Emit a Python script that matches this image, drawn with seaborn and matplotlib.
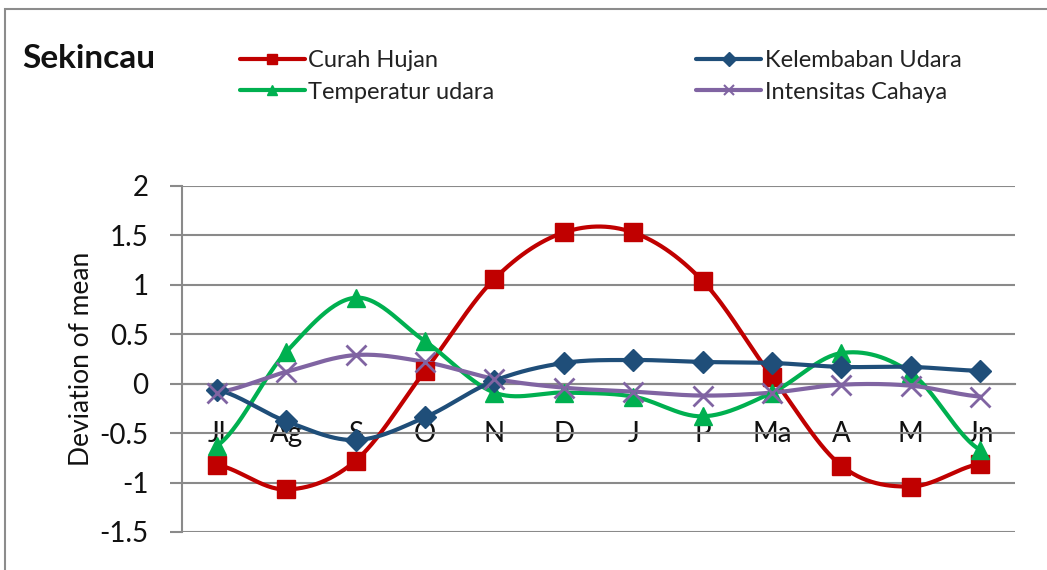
import numpy as np
import pandas as pd
import matplotlib
matplotlib.use("Agg")
import matplotlib.pyplot as plt
import seaborn as sns
from matplotlib.lines import Line2D
from matplotlib.patches import Rectangle

# data
bulan = ["Jl", "Ag", "S", "O", "N", "D", "J", "P", "Ma", "A", "M", "Jn"]
curah_hujan = [-0.82, -1.07, -0.78, 0.13, 1.06, 1.53, 1.53, 1.04, 0.07, -0.83, -1.04, -0.81]
kelembaban = [-0.06, -0.38, -0.57, -0.34, 0.03, 0.21, 0.24, 0.22, 0.21, 0.17, 0.17, 0.13]
temperatur = [-0.63, 0.32, 0.87, 0.43, -0.09, -0.09, -0.13, -0.33, -0.09, 0.31, 0.11, -0.67]
intensitas = [-0.09, 0.12, 0.29, 0.22, 0.05, -0.04, -0.08, -0.12, -0.09, -0.01, -0.02, -0.13]

sns.set_theme(style="white")
plt.rcParams['font.family'] = ['Lato', 'DejaVu Sans']
plt.rcParams['axes.unicode_minus'] = False

series = [
    ("Curah Hujan", curah_hujan, "#C00000", "s", 13),
    ("Temperatur udara", temperatur, "#00B050", "^", 13),
    ("Kelembaban Udara", kelembaban, "#1F4E79", "D", 11),
    ("Intensitas Cahaya", intensitas, "#8064A2", "x", 14),
]


def smooth(y, n=30):
    # catmull-rom curve through the points, like excel's smoothed line
    y = np.asarray(y, float)
    p = np.concatenate([[y[0]], y, [y[-1]]])
    xs, ys = [], []
    for i in range(len(y) - 1):
        t = np.linspace(0, 1, n, endpoint=False)
        p0, p1, p2, p3 = p[i], p[i + 1], p[i + 2], p[i + 3]
        ys.append(0.5 * (2 * p1 + (-p0 + p2) * t + (2 * p0 - 5 * p1 + 4 * p2 - p3) * t ** 2
                         + (-p0 + 3 * p1 - 3 * p2 + p3) * t ** 3))
        xs.append(i + t)
    xs.append([len(y) - 1])
    ys.append([y[-1]])
    return np.concatenate(xs), np.concatenate(ys)


fig = plt.figure(figsize=(10.47, 5.70), dpi=100)
ax = fig.add_axes([182 / 1047, 1 - 532 / 570, (1015 - 182) / 1047, (532 - 186) / 570])
ax.set_axisbelow(True)

grid_c = "#8a8a8a"
txt_c = "#111111"
handles = []
for name, vals, col, mk, ms in series:
    sx, sy = smooth(vals)
    sns.lineplot(x=sx, y=sy, color=col, lw=3, ax=ax, sort=False, zorder=3)
    ax.plot(range(len(bulan)), vals, ls="none", marker=mk, color=col, ms=ms,
            mew=2 if mk == "x" else 1, zorder=4)
    handles.append(Line2D([0], [0], color=col, lw=3, marker=mk, ms=7,
                          mew=1.5 if mk == "x" else 1, label=name))

ax.set_xlim(-0.5, len(bulan) - 0.5)
ax.set_ylim(-1.5, 2)
ax.set_yticks(np.arange(-1.5, 2.01, 0.5))
ax.set_yticklabels(["-1.5", "-1", "-0.5", "0", "0.5", "1", "1.5", "2"])
ax.yaxis.grid(True, color=grid_c, lw=1.5)
ax.set_xticks(range(len(bulan)))
ax.set_xticklabels(bulan)
ax.set_xticks(np.arange(-0.5, len(bulan), 1), minor=True)
ax.tick_params(axis="x", which="major", length=0, pad=27, labelsize=20, labelcolor=txt_c)
ax.tick_params(axis="x", which="minor", length=9, width=1.5, color=grid_c, direction="out")
ax.tick_params(axis="y", length=9, width=1.5, color=grid_c, direction="out", pad=15,
               labelsize=20, labelcolor=txt_c, left=True)

for s in ["top", "right"]:
    ax.spines[s].set_visible(False)
ax.spines["bottom"].set_position(("data", 0))
ax.spines["bottom"].set_color(grid_c)
ax.spines["bottom"].set_linewidth(1.5)
ax.spines["left"].set_color(grid_c)
ax.spines["left"].set_linewidth(1.5)

ax.set_ylabel("Deviation of mean", fontsize=19, color=txt_c, labelpad=4)
ax.set_xlabel("")

fig.text(22 / 1047, 1 - 58 / 570, "Sekincau", fontsize=24, fontweight="bold",
         va="center", ha="left", color=txt_c)

fig.legend(handles=handles, ncol=2, loc="upper left", bbox_to_anchor=(240 / 1047, 1 - 50 / 570),
           frameon=False, fontsize=17, handlelength=2.75, handletextpad=0.15,
           columnspacing=8.55, labelspacing=0.45, borderaxespad=0, borderpad=0,
           labelcolor="#222222")

# outer frame of the chart area
fig.patches.append(Rectangle((5 / 1047, -0.1), 1.2, 1.1 - 9 / 570, transform=fig.transFigure,
                             fill=False, ec="#8c8c8c", lw=1.5))

fig.savefig("out.png", dpi=100)
